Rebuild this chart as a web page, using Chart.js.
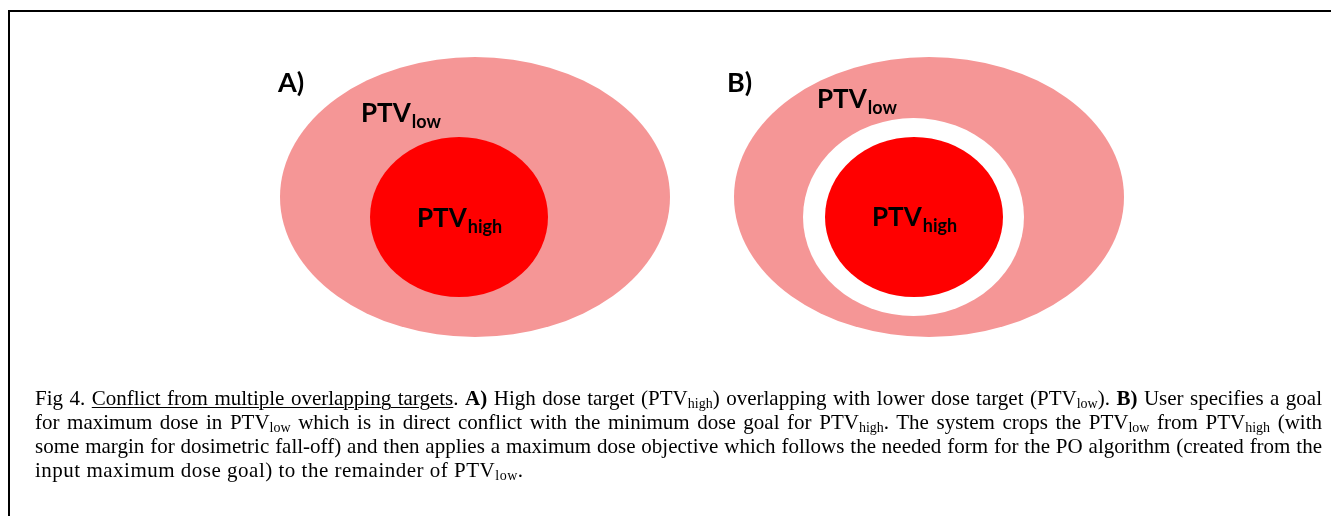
<!DOCTYPE html>
<html>
<head>
<meta charset="utf-8">
<script src="https://cdn.jsdelivr.net/npm/chart.js@4"></script>
<style>
  html, body { margin: 0; padding: 0; background: #fff; }
  #wrap { position: absolute; left: 0; top: 0; width: 1331px; height: 516px; }
  #frame { position: absolute; left: 8px; top: 10px; width: 1400px; height: 600px;
           border-top: 2px solid #000; border-left: 2px solid #000; box-sizing: border-box; }
  #caption { position: absolute; left: 35px; top: 386px; width: 1287px;
             font-family: "Liberation Serif", "Times New Roman", serif; font-size: 21px;
             line-height: 24px; color: #000; }
  #caption .ln { text-align: justify; text-align-last: justify; }
  #caption .ln.last { text-align-last: left; letter-spacing: 0.5px; }
  #caption sub { font-size: 14px; vertical-align: -3px; line-height: 0; }
  #caption u { text-decoration-thickness: 1px; text-underline-offset: 2px; }
</style>
</head>
<body>
<div id="frame"></div>
<div id="wrap"><canvas id="c"></canvas></div>
<div id="caption">
<div class="ln">Fig 4. <u>Conflict from multiple overlapping targets</u>. <b>A)</b> High dose target (PTV<sub>high</sub>) overlapping with lower dose target (PTV<sub>low</sub>). <b>B)</b> User specifies a goal</div>
<div class="ln">for maximum dose in PTV<sub>low</sub> which is in direct conflict with the minimum dose goal for PTV<sub>high</sub>. The system crops the PTV<sub>low</sub> from PTV<sub>high</sub> (with</div>
<div class="ln">some margin for dosimetric fall-off) and then applies a maximum dose objective which follows the needed form for the PO algorithm (created from the</div>
<div class="ln last">input maximum dose goal) to the remainder of PTV<sub>low</sub>.</div>
</div>
<script>
// Regions (ellipses) in data units
const regionNames = ['A: PTVlow', 'A: PTVhigh', 'B: PTVlow', 'B: crop margin', 'B: PTVhigh'];
const centerX = [475, 459, 929, 913.5, 914];
const centerY = [197, 217, 197, 217, 217];
const radiusX = [195, 89, 195, 110.5, 89];
const radiusY = [140, 80, 140, 99, 80];
const regionColors = ['#F59696', '#FF0000', '#F59696', '#FFFFFF', '#FF0000'];

// Text labels
const panelLabels = ['A)', 'B)'];
const panelX = [278, 727];
const panelY = [92, 92];
const labelMain = ['PTV', 'PTV', 'PTV', 'PTV'];
const labelSub = ['low', 'high', 'low', 'high'];
const labelX = [361, 417, 817, 872];
const labelY = [122, 227, 108, 226];

const datasets = regionNames.map((name, i) => ({
  label: name,
  data: [{ x: centerX[i], y: centerY[i] }],
  rx: radiusX[i],
  ry: radiusY[i],
  backgroundColor: regionColors[i],
  pointRadius: 0,
  pointHoverRadius: 0
}));

const ellipsePlugin = {
  id: 'ellipses',
  beforeDatasetsDraw(chart) {
    const ctx = chart.ctx;
    const xs = chart.scales.x, ys = chart.scales.y;
    chart.data.datasets.forEach((ds, i) => {
      const meta = chart.getDatasetMeta(i);
      meta.data.forEach((pt, j) => {
        const d = ds.data[j];
        const rxp = Math.abs(xs.getPixelForValue(d.x + ds.rx) - xs.getPixelForValue(d.x));
        const ryp = Math.abs(ys.getPixelForValue(d.y + ds.ry) - ys.getPixelForValue(d.y));
        ctx.save();
        ctx.beginPath();
        ctx.ellipse(pt.x, pt.y, rxp, ryp, 0, 0, Math.PI * 2);
        ctx.fillStyle = ds.backgroundColor;
        ctx.fill();
        ctx.restore();
      });
    });
  },
  afterDatasetsDraw(chart) {
    const ctx = chart.ctx;
    const xs = chart.scales.x, ys = chart.scales.y;
    ctx.save();
    ctx.fillStyle = '#000';
    ctx.textBaseline = 'alphabetic';
    ctx.textAlign = 'left';
    panelLabels.forEach((t, i) => {
      ctx.font = 'bold 27px Lato, "Open Sans", sans-serif';
      ctx.fillText(t, xs.getPixelForValue(panelX[i]), ys.getPixelForValue(panelY[i]));
    });
    labelMain.forEach((t, i) => {
      const px = xs.getPixelForValue(labelX[i]);
      const py = ys.getPixelForValue(labelY[i]);
      ctx.font = 'bold 26px Lato, "Open Sans", sans-serif';
      ctx.fillText(t, px, py);
      const w = ctx.measureText(t).width;
      ctx.font = 'bold 18px Lato, "Open Sans", sans-serif';
      ctx.fillText(labelSub[i], px + w + 1, py + 6);
    });
    ctx.restore();
  }
};

new Chart(document.getElementById('c'), {
  type: 'scatter',
  data: { datasets },
  options: {
    responsive: true,
    maintainAspectRatio: false,
    animation: false,
    layout: { padding: 0 },
    plugins: { legend: { display: false }, tooltip: { enabled: false } },
    events: [],
    scales: {
      x: { type: 'linear', min: 0, max: 1331, display: false },
      y: { type: 'linear', min: 0, max: 516, reverse: true, display: false }
    }
  },
  plugins: [ellipsePlugin]
});
</script>
</body>
</html>
